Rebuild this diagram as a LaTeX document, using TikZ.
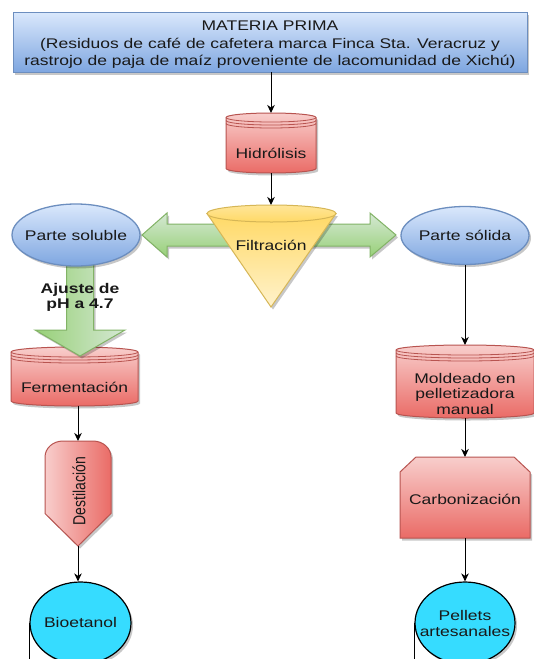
\documentclass[tikz,border=0pt]{standalone}
\usepackage{fontspec}
\setmainfont{Liberation Sans}[FakeStretch=1.25]
\newfontfamily\plainsans{Liberation Sans}
\usepackage{graphicx}
\usetikzlibrary{arrows.meta,shadows,calc,shapes.geometric}
\definecolor{bluetop}{HTML}{DAE8FC}
\definecolor{bluebot}{HTML}{7EA6E0}
\definecolor{blueline}{HTML}{6C8EBF}
\definecolor{redtop}{HTML}{F8CECC}
\definecolor{redbot}{HTML}{EA6B66}
\definecolor{redline}{HTML}{B85450}
\definecolor{yeltop}{HTML}{FFD966}
\definecolor{yelbot}{HTML}{FFF2CC}
\definecolor{yelline}{HTML}{D6B656}
\definecolor{grnlight}{HTML}{D5E8D4}
\definecolor{grndark}{HTML}{97D077}
\definecolor{grnline}{HTML}{82B366}
\definecolor{cyanfill}{HTML}{36DCFF}
\newcommand\datastore[2]{%
  \path[redshade, shad] let \p1=(#1.north west), \p2=(#1.south east), \n1={(\x2-\x1)/2} in
    (\x1,{\y1-#2pt}) arc[start angle=180,end angle=0,x radius=\n1,y radius=#2pt]
    -- (\x2,{\y2+#2pt}) arc[start angle=0,end angle=-180,x radius=\n1,y radius=#2pt] -- cycle;
  \draw[redline, line width=0.8pt] let \p1=(#1.north west), \p2=(#1.south east), \n1={(\x2-\x1)/2} in
    (\x1,{\y1-#2pt}) arc[start angle=180,end angle=360,x radius=\n1,y radius=#2pt]
    (\x1,{\y1-#2pt-3pt}) arc[start angle=180,end angle=360,x radius=\n1,y radius=#2pt]
    (\x1,{\y1-#2pt-6pt}) arc[start angle=180,end angle=360,x radius=\n1,y radius=#2pt];
}
\begin{document}
\begin{tikzpicture}[x=1pt,y=-1pt,
  txt/.style={font=\fontsize{14}{17.5}\selectfont, align=center, text=black!90, inner sep=0pt},
  arr/.style={-{Stealth[length=8pt,width=7.5pt,inset=2.5pt]}, line width=1pt, black},
  shad/.style={drop shadow={shadow xshift=2pt,shadow yshift=-2.5pt,fill=black,opacity=0.22}},
  slot/.style={rectangle, inner sep=0pt, outer sep=0pt},
  redshade/.style={top color=redtop, bottom color=redbot, draw=redline, line width=1pt},
  blueell/.style={ellipse, inner sep=0pt, draw=blueline, line width=1.3pt, top color=bluetop, bottom color=bluebot, shad},
  cyanell/.style={ellipse, inner sep=0pt, draw=black, line width=1.2pt, fill=cyanfill, shad},
  grnarrow/.style={top color=grnlight, bottom color=grndark, draw=grnline, line width=1pt, shad}
]
\useasboundingbox (0,0) rectangle (534,659);
\fill[white] (0,0) rectangle (534,659);
\coordinate (bot) at (0,659);
\begin{scope}
\clip (0,0) rectangle (534,659);

% top box
\node[slot, minimum width=514pt, minimum height=60pt, draw=blueline, line width=1pt,
      top color=bluetop, bottom color=bluebot, shad] (mp) at (270,42) {};
\node[txt] (mpt) at (270,45) {MATERIA PRIMA\\(Residuos de café de cafetera marca Finca Sta. Veracruz y\\rastrojo de paja de maíz proveniente de lacomunidad de Xichú)};

% Hidrolisis
\node[slot, minimum width=90pt, minimum height=60pt] (hid) at (271,143) {};
\datastore{hid}{4.5}
\node[txt] (hidt) at (271,153) {Hidrólisis};

% green double arrow
\path[grnarrow] (142,235) -- (167,213) -- (167,224) -- (370,224) -- (370,213) -- (396,235)
  -- (370,257) -- (370,246) -- (167,246) -- (167,257) -- cycle;

% funnel
\coordinate (funtop) at (271,205);
\path[top color=yeltop, bottom color=yelbot, draw=yelline, line width=1pt, shad]
  (207,213.5) -- (336,213.5) -- (271,307) -- cycle;
\path[top color=yelbot!50!yeltop, bottom color=yeltop, draw=yelline, line width=1pt]
  (271.5,213.5) ellipse[x radius=64.5pt, y radius=8.5pt];
\node[txt] (fil) at (271,245) {Filtración};

% Fermentacion
\node[slot, minimum width=127pt, minimum height=59pt] (fer) at (74.5,376.5) {};
\datastore{fer}{5}
\node[txt] (fert) at (74.5,387) {Fermentación};

% green down arrow
\path[grnarrow, left color=grndark, right color=grnlight]
  (66.5,262) -- (93.5,262) -- (93.5,330) -- (125,330) -- (80,356) -- (35,330) -- (66.5,330) -- cycle;

% ellipses
\node[blueell, minimum width=128pt, minimum height=62pt] (sol) at (76,235) {};
\node[txt] (solt) at (76,235) {Parte soluble};
\node[blueell, minimum width=128pt, minimum height=58pt] (sold) at (465,235.5) {};
\node[txt] (soldt) at (465,235.5) {Parte sólida};

\node[txt, font=\fontsize{14}{14.5}\selectfont\bfseries] (aj) at (80,297.5) {Ajuste de\\pH a 4.7};

% Moldeado
\node[slot, minimum width=138pt, minimum height=73pt] (mol) at (465,381.5) {};
\datastore{mol}{5}
\node[txt, font=\fontsize{14}{15.5}\selectfont] (molt) at (465,393.5) {Moldeado en\\pelletizadora\\manual};

% Carbonizacion
\node[slot, minimum width=130pt, minimum height=81pt] (car) at (465,497.5) {};
\path[redshade, shad] (400,472) -- (416,457) -- (514,457) -- (530,472) -- (530,538) -- (400,538) -- cycle;
\node[txt] (cart) at (465,499) {Carbonización};

% Destilacion
\node[slot, minimum width=66pt, minimum height=105pt] (des) at (78,493.5) {};
\path[draw=redline, line width=1pt, left color=redtop, right color=redbot, shad]
  (45,513.5) -- (45,457) arc[start angle=180,end angle=90,x radius=18pt,y radius=16pt]
  -- (93,441) arc[start angle=90,end angle=0,x radius=18pt,y radius=16pt]
  -- (111,513.5) -- (78,546) -- cycle;
\node[inner sep=0pt, text=black!90] (dest) at (79,491)
  {\scalebox{1.25}[1]{\rotatebox{90}{\plainsans\fontsize{14}{16}\selectfont Destilación}}};

% end ellipses
\node[cyanell, minimum width=101pt, minimum height=82pt] (bio) at (80.5,623) {};
\node[txt] (biot) at (80.5,622.5) {Bioetanol};
\draw[line width=1.2pt] (bio.west) -- (bio.west |- bot);
\node[cyanell, minimum width=100pt, minimum height=82pt] (pel) at (465,623) {};
\node[txt, font=\fontsize{14}{16}\selectfont] (pelt) at (465,623) {Pellets\\artesanales};
\draw[line width=1.2pt] (pel.west) -- (pel.west |- bot);

% connectors
\draw[arr] (mp.south -| hid.north) -- (hid.north);
\draw[arr] (hid.south) -- (funtop);
\draw[arr] (sold.south) -- (mol.north);
\draw[arr] (mol.south) -- (car.north);
\draw[arr] (car.south) -- (pel.north);
\draw[arr] (fer.south -| des.north) -- (des.north);
\draw[arr] (des.south) -- (des.south |- bio.north);
\end{scope}
\end{tikzpicture}
\end{document}
